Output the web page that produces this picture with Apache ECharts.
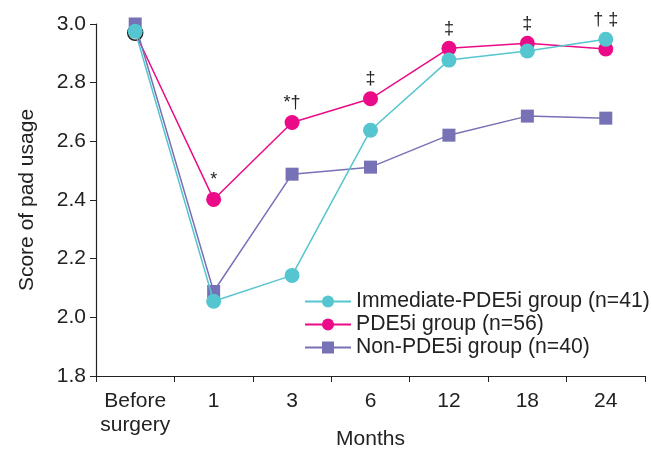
<!DOCTYPE html>
<html><head><meta charset="utf-8">
<script src="https://cdn.jsdelivr.net/npm/echarts@6/dist/echarts.min.js"></script>
<style>html,body{margin:0;padding:0;background:#fff}#c{width:651px;height:454px}</style>
</head><body><div id="c"></div>
<script>
const categories = ['Before\nsurgery', '1', '3', '6', '12', '18', '24'];
const immediate = [2.975, 2.055, 2.143, 2.638, 2.877, 2.908, 2.948];
const pde5i = [2.97, 2.402, 2.664, 2.745, 2.917, 2.934, 2.915];
const nonPde5i = [3.0, 2.088, 2.488, 2.512, 2.621, 2.686, 2.679];
const pdeMarks = ['', '*', '*†', '‡', '‡', '‡', ''];
const immMarks = ['', '', '', '', '', '', '† ‡'];
const yTicks = [1.8, 2.0, 2.2, 2.4, 2.6, 2.8, 3.0];

const FONT = 'Liberation Sans, Arial, sans-serif';
const FS = 21;
const C_IMM = '#55C5CF', C_PDE = '#EB0A87', C_NON = '#7771B5';

function withMarks(vals, marks, extra) {
  return vals.map((v, i) => {
    const o = { value: v };
    if (marks[i]) {
      o.label = { show: true, position: 'top', distance: 3, formatter: marks[i],
        color: '#222', fontSize: 18, fontFamily: FONT };
    }
    if (extra && extra[i]) Object.assign(o, extra[i]);
    return o;
  });
}

const chart = echarts.init(document.getElementById('c'));
chart.setOption({
  animation: false,
  textStyle: { fontFamily: FONT },
  grid: { left: 96, right: 6, top: 24, bottom: 78, containLabel: false, outerBoundsMode: 'none' },
  legend: {
    orient: 'vertical', left: 299, top: 286, itemGap: 2,
    itemWidth: 46, itemHeight: 15,
    textStyle: { fontSize: 21.2, color: '#222', fontFamily: FONT },
    data: ['Immediate-PDE5i group (n=41)', 'PDE5i group (n=56)', 'Non-PDE5i group (n=40)']
  },
  xAxis: {
    type: 'category', data: categories, boundaryGap: true,
    name: 'Months', nameLocation: 'middle', nameGap: 53, nameMoveOverlap: false,
    nameTextStyle: { fontSize: FS, color: '#222', fontFamily: FONT },
    axisLine: { lineStyle: { color: '#222', width: 1.2 } },
    axisTick: { show: true, alignWithLabel: false, interval: 0, length: 6, lineStyle: { color: '#222' } },
    axisLabel: { interval: 0, fontSize: FS, color: '#222', margin: 13, lineHeight: 24, fontFamily: FONT }
  },
  yAxis: {
    type: 'value', min: yTicks[0], max: yTicks[yTicks.length - 1], interval: 0.2,
    name: 'Score of pad usage', nameLocation: 'middle', nameGap: 58, nameMoveOverlap: false,
    nameTextStyle: { fontSize: FS, color: '#222', fontFamily: FONT },
    splitLine: { show: false },
    axisLine: { show: true, lineStyle: { color: '#222', width: 1.2 } },
    axisTick: { show: true, length: 6, lineStyle: { color: '#222' } },
    axisLabel: { fontSize: FS, color: '#222', margin: 10, fontFamily: FONT,
      formatter: v => v.toFixed(1) }
  },
  series: [
    {
      name: 'PDE5i group (n=56)', type: 'line', z: 2,
      data: withMarks(pde5i, pdeMarks, [{ itemStyle: { color: '#fff', borderColor: '#222', borderWidth: 1.5 } }]),
      symbol: 'circle', symbolSize: 15,
      lineStyle: { color: C_PDE, width: 1.5 }, itemStyle: { color: C_PDE }
    },
    {
      name: 'Non-PDE5i group (n=40)', type: 'line', z: 3,
      data: nonPde5i, symbol: 'rect', symbolSize: 13,
      lineStyle: { color: C_NON, width: 1.5 }, itemStyle: { color: C_NON }
    },
    {
      name: 'Immediate-PDE5i group (n=41)', type: 'line', z: 4,
      data: withMarks(immediate, immMarks), symbol: 'circle', symbolSize: 15,
      lineStyle: { color: C_IMM, width: 1.5 }, itemStyle: { color: C_IMM }
    }
  ]
});
</script></body></html>
